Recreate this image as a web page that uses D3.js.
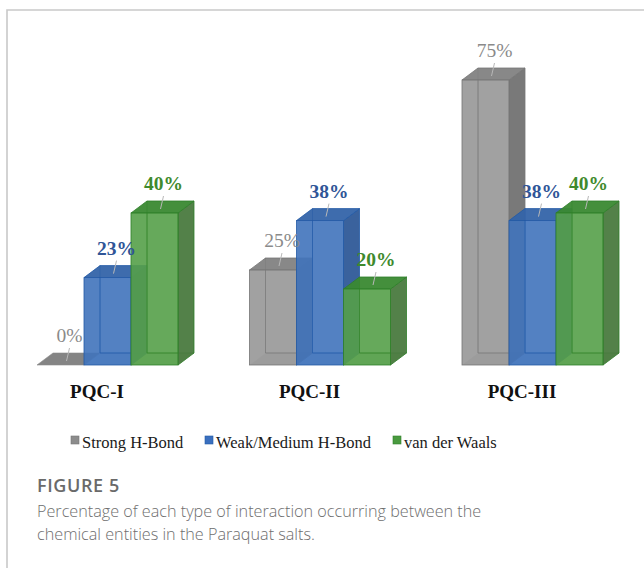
<!DOCTYPE html>
<html>
<head>
<meta charset="utf-8">
<script src="https://cdn.jsdelivr.net/npm/d3@7"></script>
<style>
  html, body { margin: 0; padding: 0; background: #ffffff; }
  svg { display: block; }
</style>
</head>
<body>
<svg id="chart" width="644" height="568"></svg>
<script>
// ---- data ----
const categories = ["PQC-I", "PQC-II", "PQC-III"];
const seriesNames = ["Strong H-Bond", "Weak/Medium H-Bond", "van der Waals"];
const strongHBond = [0, 25, 75];
const weakMediumHBond = [23, 38, 38];
const vanDerWaals = [40, 20, 40];
const seriesValues = [strongHBond, weakMediumHBond, vanDerWaals];
const valueLabels = [["0%", "25%", "75%"], ["23%", "38%", "38%"], ["40%", "20%", "40%"]];
const captionTitle = "FIGURE 5";
const captionLines = [
  "Percentage of each type of interaction occurring between the",
  "chemical entities in the Paraquat salts."
];

// ---- styles ----
const palette = [
  { front: "#979797", side: "#727272", top: "#828282", edge: "#767676", label: "#8a8a8a", weight: "normal", legend: "#8c8c8c" },
  { front: "#4073bb", side: "#2f5a98", top: "#3464a9", edge: "#235aa6", label: "#2f5597", weight: "bold", legend: "#3a6fbf" },
  { front: "#55a049", side: "#4a7a3f", top: "#3a8932", edge: "#2e7f29", label: "#3f8a2d", weight: "bold", legend: "#4a9a3f" }
];
const depthX = 16, depthY = 12;

const svg = d3.select("#chart");

// frame
svg.append("path")
  .attr("d", "M7,568 L7,10 L644,10")
  .attr("fill", "none")
  .attr("stroke", "#c9c9c9")
  .attr("stroke-width", 1.6);

// scales
const y = d3.scaleLinear().domain([0, 75]).range([365, 80]);
const x0 = d3.scaleBand().domain(categories).range([37, 37 + 3 * 212.5]).padding(0);
const x1 = d3.scaleBand().domain(seriesNames).range([0, 141]).padding(0);

// bars (series order so later series overlap earlier ones)
const barsG = svg.append("g");
seriesNames.forEach((s, si) => {
  const col = palette[si];
  categories.forEach((c, ci) => {
    const v = seriesValues[si][ci];
    const xl = x0(c) + x1(s);
    const w = x1.bandwidth();
    const xr = xl + w;
    const yb = y(0);
    const yt = y(v);
    const g = barsG.append("g");
    if (v === 0) {
      g.append("path")
        .attr("d", `M${xl},${yb} L${xr},${yb} L${xr + depthX},${yb - depthY} L${xl + depthX},${yb - depthY} Z`)
        .attr("fill", "#848484")
        .attr("stroke", "#8a8a8a")
        .attr("stroke-width", 0.6);
      return;
    }
    // back edges (visible through faces)
    g.append("path")
      .attr("d", `M${xl + depthX},${yt - depthY} L${xl + depthX},${yb - depthY} L${xr + depthX},${yb - depthY}`)
      .attr("fill", "none")
      .attr("stroke", col.edge)
      .attr("stroke-width", 1);
    // side face
    g.append("path")
      .attr("d", `M${xr},${yt} L${xr + depthX},${yt - depthY} L${xr + depthX},${yb - depthY} L${xr},${yb} Z`)
      .attr("fill", col.side)
      .attr("fill-opacity", 0.95)
      .attr("stroke", col.edge)
      .attr("stroke-width", 0.8);
    // top face
    g.append("path")
      .attr("d", `M${xl},${yt} L${xl + depthX},${yt - depthY} L${xr + depthX},${yt - depthY} L${xr},${yt} Z`)
      .attr("fill", col.top)
      .attr("fill-opacity", 0.95)
      .attr("stroke", col.edge)
      .attr("stroke-width", 0.8);
    // bottom face hint
    g.append("path")
      .attr("d", `M${xl},${yb} L${xl + depthX},${yb - depthY} L${xr + depthX},${yb - depthY} L${xr},${yb} Z`)
      .attr("fill", col.side)
      .attr("fill-opacity", 0.35)
      .attr("stroke", "none");
    // front face (semi transparent)
    g.append("rect")
      .attr("x", xl)
      .attr("y", yt)
      .attr("width", w)
      .attr("height", yb - yt)
      .attr("fill", col.front)
      .attr("fill-opacity", 0.9)
      .attr("stroke", col.edge)
      .attr("stroke-width", 0.8);
    // visible back-left edge line through the front face
    g.append("line")
      .attr("x1", xl + depthX).attr("x2", xl + depthX)
      .attr("y1", yt).attr("y2", yb - depthY)
      .attr("stroke", col.edge)
      .attr("stroke-opacity", 0.6)
      .attr("stroke-width", 1);
    g.append("line")
      .attr("x1", xl + depthX).attr("x2", xr)
      .attr("y1", yb - depthY).attr("y2", yb - depthY)
      .attr("stroke", col.edge)
      .attr("stroke-opacity", 0.6)
      .attr("stroke-width", 1);
  });
});

// value labels with leader lines
const labelsG = svg.append("g");
seriesNames.forEach((s, si) => {
  const col = palette[si];
  categories.forEach((c, ci) => {
    const v = seriesValues[si][ci];
    const cx = x0(c) + x1(s) + x1.bandwidth() / 2;
    const yt = y(v);
    const lx = cx + 9;
    const ly = yt - 23;
    labelsG.append("line")
      .attr("x1", lx).attr("y1", ly + 6)
      .attr("x2", cx + depthX / 2 - 2).attr("y2", yt - depthY / 2 + 2)
      .attr("stroke", "#b8b8b8")
      .attr("stroke-width", 1);
    labelsG.append("text")
      .attr("x", lx)
      .attr("y", ly)
      .attr("text-anchor", "middle")
      .attr("font-family", "'Liberation Serif', 'Times New Roman', serif")
      .attr("font-size", 19.5)
      .attr("font-weight", col.weight)
      .attr("fill", col.label)
      .text(valueLabels[si][ci]);
  });
});

// category labels
svg.append("g").selectAll("text")
  .data(categories)
  .join("text")
  .attr("x", d => x0(d) + 60)
  .attr("y", 398)
  .attr("text-anchor", "middle")
  .attr("font-family", "'Liberation Serif', 'Times New Roman', serif")
  .attr("font-size", 19)
  .attr("font-weight", "bold")
  .attr("fill", "#111")
  .text(d => d);

// legend
const legendX = [71, 205, 393];
const legend = svg.append("g");
seriesNames.forEach((s, si) => {
  legend.append("rect")
    .attr("x", legendX[si]).attr("y", 436)
    .attr("width", 8).attr("height", 8)
    .attr("fill", palette[si].legend)
    .attr("stroke", palette[si].edge)
    .attr("stroke-width", 0.6);
  legend.append("text")
    .attr("x", legendX[si] + 11).attr("y", 448)
    .attr("font-family", "'Liberation Serif', 'Times New Roman', serif")
    .attr("font-size", 16.5)
    .attr("fill", "#1a1a1a")
    .text(s);
});

// caption
svg.append("text")
  .attr("x", 37).attr("y", 492)
  .attr("font-family", "'Open Sans', sans-serif")
  .attr("font-size", 18)
  .attr("font-weight", 600)
  .attr("letter-spacing", 0.6)
  .attr("fill", "#6a6a6a")
  .text(captionTitle);
captionLines.forEach((t, i) => {
  svg.append("text")
    .attr("x", 37).attr("y", 517 + i * 23)
    .attr("font-family", "'Open Sans', sans-serif")
    .attr("font-size", 16.2)
    .attr("font-weight", 300)
    .attr("fill", "#6e6e6e")
    .text(t);
});
</script>
</body>
</html>
